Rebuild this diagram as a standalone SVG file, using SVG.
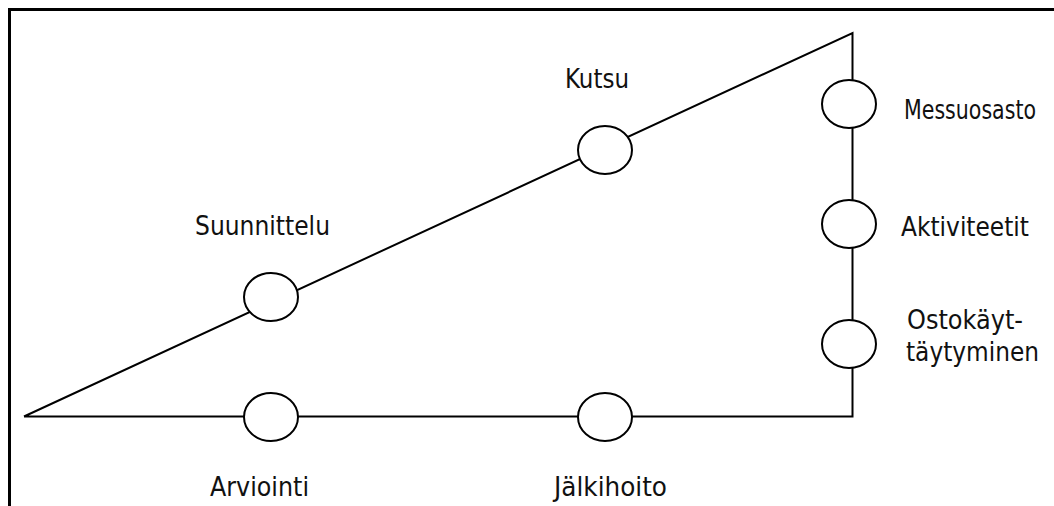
<svg xmlns="http://www.w3.org/2000/svg" width="1054" height="506" viewBox="0 0 1054 506">
<style>
.frame{fill:none;stroke:#000;stroke-width:3}
.edge{fill:none;stroke:#000;stroke-width:2}
.node{fill:#fff;stroke:#000;stroke-width:2}
.lbl{font-family:"DejaVu Sans Condensed","DejaVu Sans",sans-serif;font-stretch:condensed;font-size:26px;fill:#111}
</style>
<rect width="1054" height="506" fill="#fff"/>
<path class="frame" d="M9.5 506 V9.5 H1054"/>
<g id="connectors">
<polyline class="edge" points="24,416.5 852.5,33 852.5,416.5 24,416.5"/>
</g>
<g id="suunnittelu"><ellipse class="node" cx="271" cy="297" rx="27" ry="24"/><text class="lbl" x="195" y="235" textLength="135" lengthAdjust="spacingAndGlyphs">Suunnittelu</text></g>
<g id="kutsu"><ellipse class="node" cx="605" cy="150" rx="27" ry="24"/><text class="lbl" x="565" y="88" textLength="64" lengthAdjust="spacingAndGlyphs">Kutsu</text></g>
<g id="messuosasto"><ellipse class="node" cx="849" cy="104" rx="27" ry="24"/><text class="lbl" x="904" y="119" textLength="132" lengthAdjust="spacingAndGlyphs">Messuosasto</text></g>
<g id="aktiviteetit"><ellipse class="node" cx="849" cy="224" rx="27" ry="24"/><text class="lbl" x="901" y="236" textLength="128" lengthAdjust="spacingAndGlyphs">Aktiviteetit</text></g>
<g id="ostokayttaytyminen"><ellipse class="node" cx="849" cy="344" rx="27" ry="24"/><text class="lbl" x="907" y="329" textLength="116" lengthAdjust="spacingAndGlyphs">Ostokäyt-</text><text class="lbl" x="906" y="361" textLength="133" lengthAdjust="spacingAndGlyphs">täytyminen</text></g>
<g id="arviointi"><ellipse class="node" cx="271" cy="417" rx="27" ry="24"/><text class="lbl" x="210" y="496" textLength="99" lengthAdjust="spacingAndGlyphs">Arviointi</text></g>
<g id="jalkihoito"><ellipse class="node" cx="605" cy="417" rx="27" ry="24"/><text class="lbl" x="554" y="496" textLength="113" lengthAdjust="spacingAndGlyphs">Jälkihoito</text></g>
</svg>
